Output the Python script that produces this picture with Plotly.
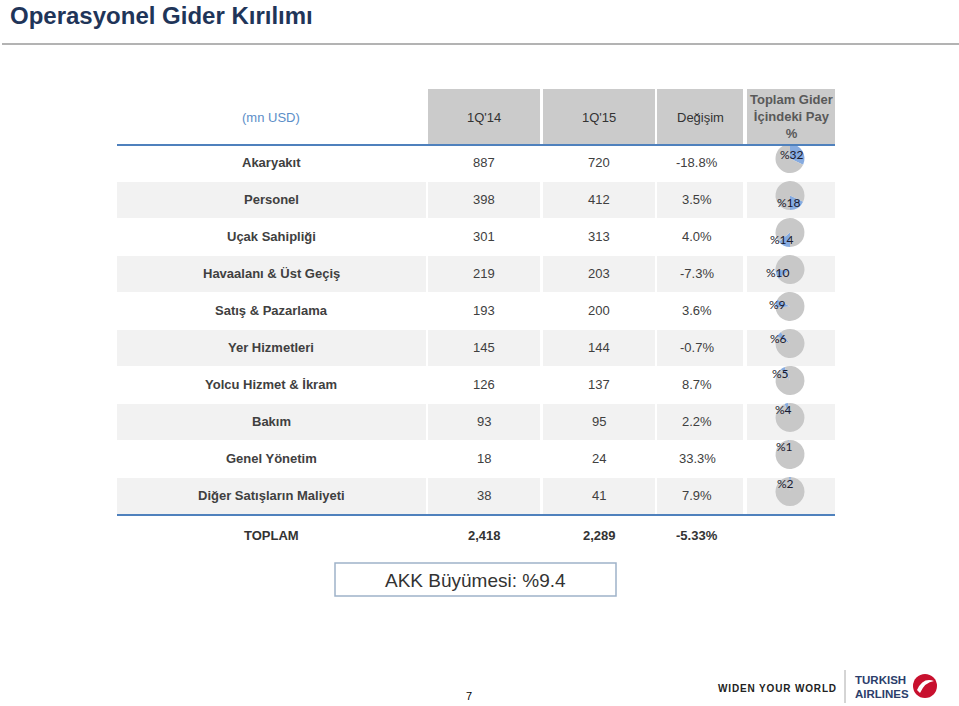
import math
import plotly.graph_objects as go

# table data
categories = ["Akaryakıt", "Personel", "Uçak Sahipliği", "Havaalanı & Üst Geçiş",
              "Satış & Pazarlama", "Yer Hizmetleri", "Yolcu Hizmet & İkram", "Bakım",
              "Genel Yönetim", "Diğer Satışların Maliyeti"]
q1_14 = [887, 398, 301, 219, 193, 145, 126, 93, 18, 38]
q1_15 = [720, 412, 313, 203, 200, 144, 137, 95, 24, 41]
change = [-18.8, 3.5, 4.0, -7.3, 3.6, -0.7, 8.7, 2.2, 33.3, 7.9]
share = [32, 18, 14, 10, 9, 6, 5, 4, 1, 2]
headers = ["(mn USD)", "1Q'14", "1Q'15", "Değişim", "Toplam Gider<br>İçindeki Pay<br>%"]
total_label = "TOPLAM"
total_14 = 2418
total_15 = 2289
total_change = -5.33
akk_growth = 9.4
page_no = "7"

W, H = 959, 706
cols = [(117, 426), (428, 540), (543, 655), (657, 743), (747, 835)]
text_x = [271, 484, 599, 700, 791]
head_top, head_bot = 89, 145
row_h = 37
txt = "#404040"
blue_line = "#4f81bd"
font = "Liberation Sans, Arial"

fig = go.Figure()
shapes = []
ann = []

# title
ann.append(dict(x=8, y=15, text="<b>Operasyonel Gider Kırılımı</b>", xanchor="left", yanchor="middle",
                font=dict(size=24, color="#1f3559", family=font)))
shapes.append(dict(type="line", x0=2, x1=959, y0=44, y1=44, line=dict(color="#b3b3b3", width=2)))

# header
for j, (x0, x1) in enumerate(cols):
    if j > 0:
        shapes.append(dict(type="rect", x0=x0, x1=x1, y0=head_top, y1=head_bot, layer="below",
                           fillcolor="#cbcbcb", line=dict(width=0)))
hy = (head_top + head_bot) / 2
ann.append(dict(x=text_x[0], y=hy, text=headers[0], font=dict(size=13, color="#5b8ec8", family=font)))
for j in range(1, 4):
    ann.append(dict(x=text_x[j], y=hy, text=headers[j], font=dict(size=13, color="#333333", family=font)))
ann.append(dict(x=text_x[4], y=hy - 1, text="<b>" + headers[4] + "</b>",
                font=dict(size=13, color="#595959", family=font)))

# rows
cum = 0
for i, cat in enumerate(categories):
    top = head_bot + i * row_h
    cy = top + row_h / 2 - 1.5
    if i % 2 == 1:
        for x0, x1 in cols:
            shapes.append(dict(type="rect", x0=x0, x1=x1, y0=top, y1=top + row_h - 1, layer="below",
                               fillcolor="#f2f2f2", line=dict(width=0)))
    vals = ["<b>" + cat + "</b>", str(q1_14[i]), str(q1_15[i]), f"{change[i]:.1f}%"]
    for j, v in enumerate(vals):
        ann.append(dict(x=text_x[j] - (3 if j == 3 else 0), y=cy, text=v,
                        font=dict(size=13, color=txt, family=font)))
    # share pie, each slice starting where the previous one ended
    pcx, pcy, r = 790, top + row_h / 2 - 5, 14.5
    fig.add_trace(go.Pie(values=[share[i], 100 - share[i]], sort=False, direction="clockwise",
                         rotation=cum * 3.6, textinfo="none", hoverinfo="skip", showlegend=False,
                         marker=dict(colors=["#86abe0", "#c8c8c8"], line=dict(width=0)),
                         domain=dict(x=[(pcx - r) / W, (pcx + r) / W],
                                     y=[1 - (pcy + r) / H, 1 - (pcy - r) / H])))
    a = math.radians((cum + share[i] / 2) * 3.6)
    ann.append(dict(x=pcx + 8 * math.sin(a) - 5, y=pcy - 8 * math.cos(a), text=f"%{share[i]}",
                    font=dict(size=12, color="#1a1a2e", family="Lato, Open Sans")))
    cum += share[i]

bot = head_bot + len(categories) * row_h
shapes.append(dict(type="line", x0=117, x1=835, y0=head_bot, y1=head_bot, line=dict(color=blue_line, width=2)))
shapes.append(dict(type="line", x0=117, x1=835, y0=bot, y1=bot, line=dict(color=blue_line, width=2)))

# total row
ty = bot + 20
tvals = [total_label, f"{total_14:,}", f"{total_15:,}", f"{total_change:.2f}%"]
for j, v in enumerate(tvals):
    ann.append(dict(x=text_x[j] - (3 if j == 3 else 0), y=ty, text="<b>" + v + "</b>",
                    font=dict(size=13, color="#333333", family=font)))

# AKK box
shapes.append(dict(type="rect", x0=335, x1=616, y0=563, y1=596, line=dict(color="#9fb2c9", width=1.5)))
ann.append(dict(x=475.5, y=580, text=f"AKK Büyümesi: %{akk_growth}",
                font=dict(size=19, color="#333333", family=font)))

# footer
ann.append(dict(x=469, y=696, text=page_no, font=dict(size=11, color="#000000", family=font)))
ann.append(dict(x=777, y=688, text="<b>" + "\u200a".join("WIDEN YOUR WORLD") + "</b>",
                font=dict(size=10, color="#222222", family=font)))
shapes.append(dict(type="line", x0=845, x1=845, y0=670, y1=703, line=dict(color="#aaaaaa", width=1)))
ann.append(dict(x=853, y=680, text="<b>TURKISH</b>", xanchor="left", yanchor="middle",
                font=dict(size=11.5, color="#2c3e6b", family=font)))
ann.append(dict(x=853, y=694, text="<b>AIRLINES</b>", xanchor="left", yanchor="middle",
                font=dict(size=11.5, color="#2c3e6b", family=font)))
shapes.append(dict(type="circle", x0=913, x1=937, y0=674, y1=698, fillcolor="#c8102e", line=dict(width=0)))
shapes.append(dict(type="path", path="M 917 690 Q 923 677 934 681 Q 925 682 920 693 Z",
                   fillcolor="white", line=dict(width=0)))

for a_ in ann:
    a_.setdefault("xref", "x")
    a_.setdefault("yref", "y")
    a_.setdefault("showarrow", False)

fig.update_layout(width=W, height=H, margin=dict(l=0, r=0, t=0, b=0),
                  paper_bgcolor="white", plot_bgcolor="white",
                  xaxis=dict(range=[0, W], visible=False, fixedrange=True),
                  yaxis=dict(range=[H, 0], visible=False, fixedrange=True),
                  shapes=shapes, annotations=ann)
fig.write_html("out.html", config=dict(displayModeBar=False),
               post_script="document.body.style.margin='0';")
